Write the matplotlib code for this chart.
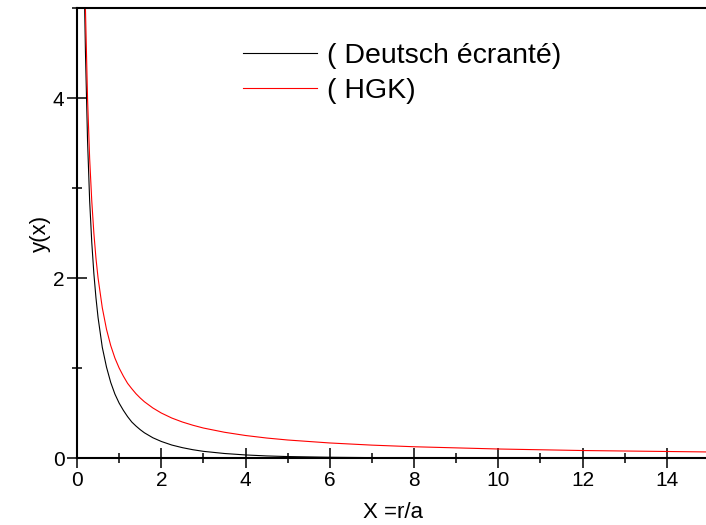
import matplotlib
matplotlib.use("Agg")
import matplotlib.pyplot as plt
from matplotlib.ticker import MultipleLocator

plt.rcParams['font.family'] = ['Liberation Sans', 'DejaVu Sans']

# values
x_deutsch = [0.18, 0.2, 0.25, 0.3, 0.35, 0.4, 0.45, 0.5, 0.6, 0.7, 0.8, 0.9,
             1.0, 1.1, 1.2, 1.3, 1.4, 1.5, 1.6, 1.8, 2.0, 2.25, 2.5, 2.75,
             3.0, 3.5, 4.0, 4.5, 5.0, 6.0, 7.0, 8.0, 10.0, 12.0, 15.0]
y_deutsch = [5.05, 4.52, 3.53, 2.86, 2.40, 2.05, 1.78, 1.56, 1.23, 1.01, 0.84,
             0.71, 0.61, 0.53, 0.46, 0.40, 0.355, 0.315, 0.28, 0.225, 0.184,
             0.144, 0.115, 0.092, 0.074, 0.050, 0.034, 0.023, 0.016, 0.0083,
             0.0043, 0.0023, 0.0007, 0.0002, 0.00004]

x_hgk = [0.18, 0.2, 0.25, 0.3, 0.35, 0.4, 0.45, 0.5, 0.6, 0.7, 0.8, 0.9,
         1.0, 1.1, 1.2, 1.3, 1.4, 1.5, 1.6, 1.8, 2.0, 2.25, 2.5, 2.75,
         3.0, 3.5, 4.0, 4.5, 5.0, 6.0, 7.0, 8.0, 10.0, 12.0, 15.0]
y_hgk = [5.56, 5.0, 4.0, 3.33, 2.86, 2.5, 2.22, 2.0, 1.67, 1.43, 1.25, 1.11,
         1.0, 0.91, 0.83, 0.77, 0.714, 0.667, 0.625, 0.556, 0.5, 0.444, 0.4,
         0.364, 0.333, 0.286, 0.25, 0.222, 0.2, 0.167, 0.143, 0.125, 0.1,
         0.083, 0.067]

labels = ['( Deutsch écranté)', '( HGK)']

W, H = 706, 525
fig = plt.figure(figsize=(W / 100, H / 100), dpi=100)
ax = fig.add_axes([77 / W, 67 / H, 632 / W, 450 / H])

ax.plot(x_deutsch, y_deutsch, color='black', lw=0.8, label=labels[0])
ax.plot(x_hgk, y_hgk, color='red', lw=0.8, label=labels[1])

ax.set_xlim(0, 15)
ax.set_ylim(0, 5)
ax.xaxis.set_major_locator(MultipleLocator(2))
ax.xaxis.set_minor_locator(MultipleLocator(1))
ax.yaxis.set_major_locator(MultipleLocator(2))
ax.yaxis.set_minor_locator(MultipleLocator(1))

for side in ['left', 'bottom', 'top']:
    ax.spines[side].set_linewidth(1.5)
ax.spines['right'].set_visible(False)

ax.tick_params(which='major', direction='inout', length=14, width=1.1,
               labelsize=15, pad=2)
ax.tick_params(which='minor', direction='inout', length=7, width=1.1)
ax.tick_params(top=False, right=False, which='both')

ax.set_xlabel('X =r/a', fontsize=16, labelpad=9)
ax.set_ylabel('y(x)', fontsize=16, labelpad=1)

ax.legend(loc='upper left', bbox_to_anchor=(243 / W, 1 - 43 / H),
          bbox_transform=fig.transFigure, frameon=False, fontsize=20.5,
          handlelength=2.6, handletextpad=0.35, labelspacing=0.3,
          borderpad=0, borderaxespad=0)

fig.savefig('out.png', dpi=100)
